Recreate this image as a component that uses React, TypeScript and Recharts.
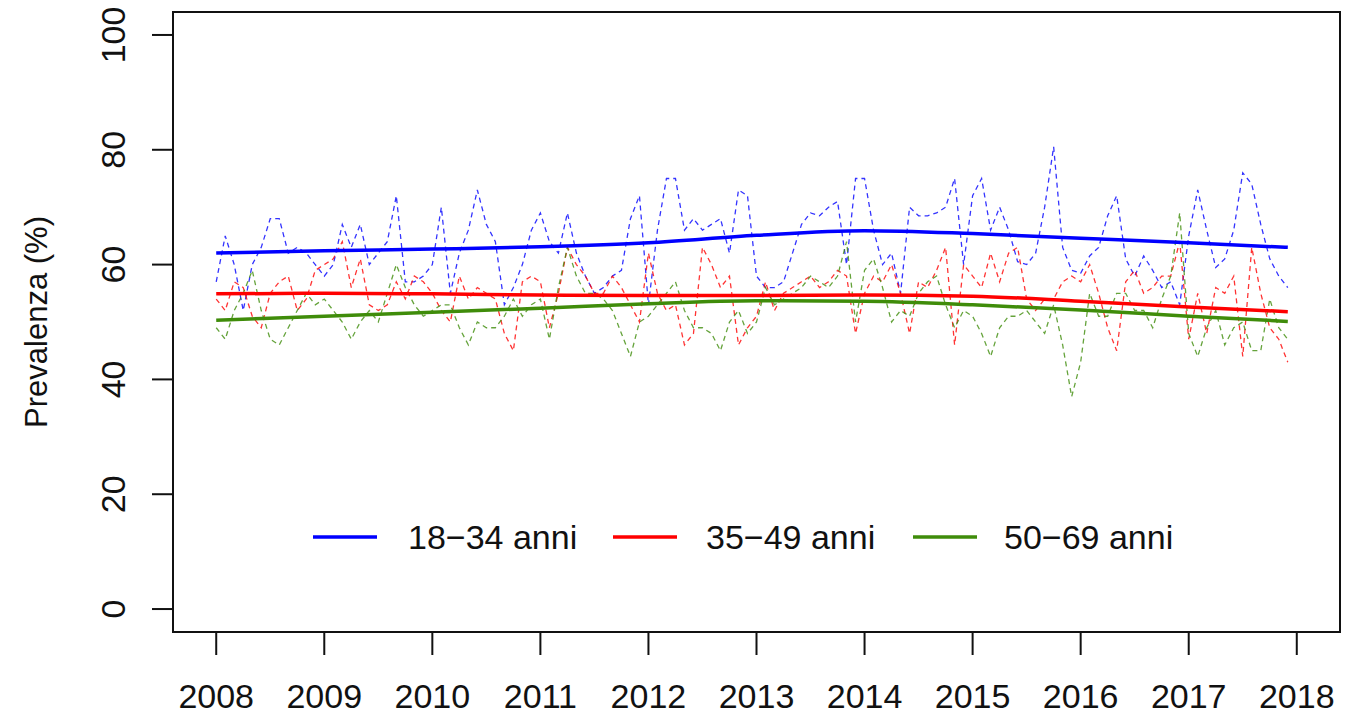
import { LineChart, Line, XAxis, YAxis, ReferenceArea, Legend } from 'recharts';

const FONT = '"Liberation Sans", Arial, sans-serif';

// monthly prevalence, Jan 2008 .. Dec 2017
const START_YEAR = 2008;
const blue18_34 = [
  57, 65, 60, 52, 60, 63, 68, 68, 62, 63, 62, 60,
  58, 60, 67, 63, 67, 60, 62, 64, 72, 57, 57, 58,
  60, 70, 55, 62, 66, 73, 67, 64, 53, 56, 60, 66,
  69, 64, 62, 69, 62, 58, 55, 56, 58, 59, 68, 72,
  53, 66, 75, 75, 66, 68, 66, 67, 68, 62, 73, 72,
  58, 56, 56, 57, 62, 67, 69, 68.5, 70, 71, 60, 75,
  75, 66, 60, 62, 55, 70, 68.5, 68.5, 69, 70, 75, 60,
  72, 75, 66, 70, 66, 60.5, 60, 62, 70, 80.5, 63, 59,
  58.5, 61.5, 63, 68.5, 72, 61, 58, 61.5, 59, 56, 57, 53,
  65, 73, 66, 59.5, 61, 66, 76, 74, 67, 61, 58, 56,
];
const red35_49 = [
  54, 52, 57, 56, 51, 49, 55, 57, 58, 52, 54, 59,
  60, 61, 64, 56, 61, 53, 52, 53, 57, 54, 58, 57,
  55, 52, 50, 58, 54, 56, 55, 54, 48, 45, 57, 58,
  57, 49, 55, 63, 60, 58, 55, 55, 58, 56, 53, 50,
  62, 55, 52, 53, 46, 48, 63, 60, 56, 58, 46, 49,
  51, 57, 52, 55, 56, 57, 58, 56, 57, 59, 58, 48,
  55, 58, 57, 60, 55, 48, 57, 56, 59, 63, 46, 60,
  58, 56, 62, 57, 62, 63, 54, 52, 54, 54, 57, 58,
  57, 60, 55, 49, 45, 57, 59, 55, 56, 58, 58, 64,
  47, 55, 48, 56, 55, 58, 44, 63, 55, 49, 47, 43,
];
const green50_69 = [
  49, 47, 52, 55, 59, 52, 47, 46, 49, 52, 55, 53,
  54, 52, 50, 47, 50, 52, 50, 55, 60, 56, 53, 51,
  52, 53, 53, 49, 46, 50, 49, 49, 51, 54, 51, 53,
  54, 47, 56, 63, 58, 55, 55, 54, 52, 48, 44, 50,
  51, 53, 55, 57, 52, 49, 49, 48, 45, 50, 52, 48,
  50, 56, 53, 54, 55, 56, 58, 57, 56, 58, 64, 50,
  59, 61, 56, 50, 52, 51, 55, 57, 58, 53, 49, 52,
  51, 48, 44, 49, 51, 51, 52, 50, 48, 53, 46, 37,
  43, 55, 51, 51, 55, 55, 52, 52, 49, 54, 58, 69,
  48, 44, 49, 52, 46, 49, 50, 45, 45, 54, 49, 47,
];

// smoothed trends
const trendYears = [2008, 2009, 2010, 2011, 2012, 2013, 2014, 2015, 2016, 2017, 2017.917];
const blueTrend = [62.0, 62.4, 62.7, 63.1, 63.8, 65.1, 65.9, 65.4, 64.6, 63.8, 63.0];
const redTrend = [54.9, 55.0, 54.9, 54.7, 54.6, 54.6, 54.7, 54.5, 53.6, 52.6, 51.8];
const greenTrend = [50.3, 51.0, 51.7, 52.4, 53.2, 53.7, 53.6, 53.0, 52.1, 51.0, 50.1];

const yearTicks = [2008, 2009, 2010, 2011, 2012, 2013, 2014, 2015, 2016, 2017, 2018];
const valueTicks = [0, 20, 40, 60, 80, 100];
const seriesNames = ['18\u221234 anni', '35\u221249 anni', '50\u221269 anni'];
const seriesColors = ['#0000ff', '#ff0000', '#3f8c0a'];

const X_DOMAIN: [number, number] = [2007.6, 2018.4];
const Y_DOMAIN: [number, number] = [-4, 104];

const monthly = blue18_34.map((b, i) => ({
  t: START_YEAR + i / 12,
  blue: b,
  red: red35_49[i],
  green: green50_69[i],
}));
const trend = trendYears.map((t, i) => ({
  t,
  blue: blueTrend[i],
  red: redTrend[i],
  green: greenTrend[i],
}));

function YTick(props: any) {
  const { x, y, payload } = props;
  return (
    <text x={x} y={y} transform={`rotate(-90 ${x} ${y})`} textAnchor="middle"
      fontSize={34} fill="#111" fontFamily={FONT}>
      {payload.value}
    </text>
  );
}

function YTitle() {
  return (
    <text x={47} y={322} transform="rotate(-90 47 322)" textAnchor="middle"
      fontSize={31} fill="#111" fontFamily={FONT}>
      Prevalenza (%)
    </text>
  );
}

function LegendBox() {
  return (
    <svg width={1345} height={714}>
      {seriesNames.map((name, i) => (
        <g key={name}>
          <line x1={313 + i * 300} x2={377 + i * 300} y1={537} y2={537}
            stroke={seriesColors[i]} strokeWidth={3.5} />
          <text x={408 + i * 298} y={549} fontSize={34} fill="#111" fontFamily={FONT}>
            {name}
          </text>
        </g>
      ))}
    </svg>
  );
}

export default function App() {
  return (
    <div style={{ position: 'absolute', left: 0, top: 0, background: '#fff' }}>
      <LineChart width={1345} height={714} data={monthly}
        margin={{ top: 12, right: 5, left: 0, bottom: 0 }}>
        <XAxis dataKey="t" type="number" domain={X_DOMAIN} ticks={yearTicks}
          allowDataOverflow axisLine={false} height={82}
          tickSize={23} tickMargin={29}
          tickLine={{ stroke: '#111', strokeWidth: 2 }}
          tick={{ fontSize: 34, fill: '#111', fontFamily: FONT }} />
        <YAxis type="number" domain={Y_DOMAIN} ticks={valueTicks}
          allowDataOverflow axisLine={false} width={173}
          tickSize={21} tickMargin={27}
          tickLine={{ stroke: '#111', strokeWidth: 2 }}
          tick={<YTick />} label={<YTitle />} />
        <ReferenceArea x1={X_DOMAIN[0]} x2={X_DOMAIN[1]} y1={Y_DOMAIN[0]} y2={Y_DOMAIN[1]}
          fill="none" stroke="#111" strokeWidth={2} strokeOpacity={1} />
        <Line dataKey="blue" stroke={seriesColors[0]} strokeWidth={1.3} strokeDasharray="5 4"
          strokeOpacity={0.8} dot={false} activeDot={false} isAnimationActive={false} />
        <Line dataKey="red" stroke={seriesColors[1]} strokeWidth={1.3} strokeDasharray="5 4"
          strokeOpacity={0.8} dot={false} activeDot={false} isAnimationActive={false} />
        <Line dataKey="green" stroke={seriesColors[2]} strokeWidth={1.3} strokeDasharray="5 4"
          strokeOpacity={0.8} dot={false} activeDot={false} isAnimationActive={false} />
        <Line data={trend} dataKey="blue" type="monotone" stroke={seriesColors[0]} strokeWidth={3.5}
          dot={false} activeDot={false} isAnimationActive={false} />
        <Line data={trend} dataKey="red" type="monotone" stroke={seriesColors[1]} strokeWidth={3.5}
          dot={false} activeDot={false} isAnimationActive={false} />
        <Line data={trend} dataKey="green" type="monotone" stroke={seriesColors[2]} strokeWidth={3.5}
          dot={false} activeDot={false} isAnimationActive={false} />
        <Legend layout="horizontal" verticalAlign="middle" align="center" content={<LegendBox />}
          wrapperStyle={{ position: 'absolute', left: 0, top: 0, width: 1345, height: 714, pointerEvents: 'none' }} />
      </LineChart>
    </div>
  );
}
